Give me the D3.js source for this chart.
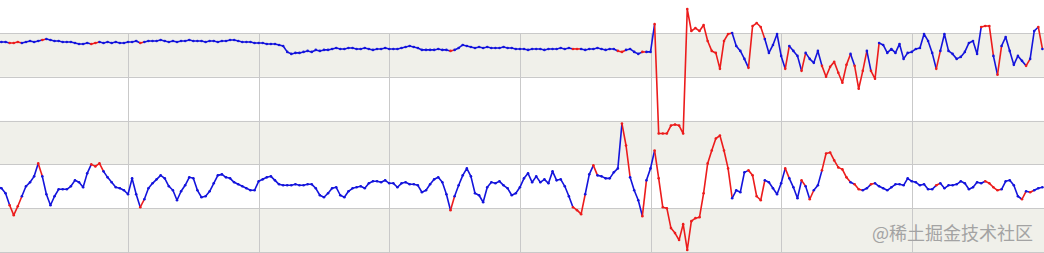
<!DOCTYPE html>
<html lang="zh">
<head>
<meta charset="UTF-8">
<title>signal</title>
<script src="https://cdn.jsdelivr.net/npm/d3@7"></script>
<style>
  body { margin: 0; background: #fff; }
</style>
</head>
<body>
<div id="chart"></div>
<script>
// readings, one sample every 1/32 of a grid cell
const upperSignal = [
  211,211,211,210,210,211,210,211,212,211, 212,213,214,213,212,212,211,211,211,210,
  209,209,210,209,210,211,210,211,210,211, 210,210,211,211,212,210,211,212,212,212,
  213,212,211,212,211,212,212,213,212,212, 212,211,212,212,211,212,212,213,213,212,
  211,211,211,210,210,210,209,209,209,208, 207,201,199,200,200,201,202,201,203,202,
  203,203,204,205,204,204,205,205,204,204, 205,204,203,204,204,205,204,204,204,205,
  206,207,206,205,203,203,203,203,204,203, 203,202,203,205,208,207,206,205,206,205,
  206,205,205,205,206,205,205,204,204,204, 203,204,204,204,203,204,204,204,205,204,
  205,204,204,204,203,204,204,205,204,203, 204,204,202,201,203,204,201,199,201,201,
  201,229,119,119,119,127,128,127,119,244, 222,225,222,228,212,202,200,184,212,219,
  220,207,202,194,185,227,230,226,214,200, 208,219,197,184,207,202,197,182,200,194,
  190,202,187,176,186,191,180,170,188,199, 187,164,182,202,182,174,210,208,200,204,
  200,209,194,200,201,204,205,219,212,200, 184,202,219,202,199,194,196,201,210,212,
  199,226,227,227,197,178,207,216,202,188, 197,192,187,194,222,226,204
];
const lowerSignal = [
  66,64,59,47,37,46,56,66,70,76, 89,76,58,47,56,63,63,63,66,72,
  70,65,79,88,86,89,81,75,70,65, 64,62,58,74,58,45,53,64,69,73,
  77,74,66,62,52,61,67,75,74,62, 55,56,61,69,77,78,75,74,70,68,
  66,64,62,62,71,73,75,76,72,68, 67,67,67,68,67,67,68,68,64,57,
  55,59,64,65,57,55,61,64,65,66, 64,69,71,71,70,72,69,69,65,69,
  70,68,68,67,60,62,68,73,75,70, 58,42,56,67,77,84,76,59,57,50,
  65,70,69,71,67,64,57,59,65,74, 79,70,76,70,73,69,81,72,73,66,
  56,45,42,38,58,78,87,77,76,74, 74,80,84,129,107,75,62,52,36,72,
  84,102,74,45,44,24,19,12,28,2, 31,34,35,59,89,102,114,117,102,84,
  54,62,60,80,82,77,56,52,72,70, 64,58,69,84,74,65,54,72,66,53,
  62,67,82,99,100,92,85,83,75,70, 68,63,62,64,68,69,66,64,62,65,
  68,68,67,74,71,70,67,68,63,63, 67,69,64,67,67,68,71,69,63,65,
  70,69,71,69,65,62,63,71,72,67, 56,53,61,60,62,64,65
];
// flagged stretches (sample index ranges, inclusive)
const upperFlagged = [[3,5],[11,11],[23,24],[35,35],[111,111],[141,142],[152,153],[158,158],
  [161,179],[184,187],[193,193],[197,197],[202,208],[210,212],[214,215],[230,230],
  [241,243],[245,245],[252,252],[255,255]];
const lowerFlagged = [[3,5],[10,10],[23,25],[35,35],[111,111],[141,143],[146,146],[153,154],
  [158,158],[161,179],[184,187],[193,193],[197,197],[199,199],[202,208],[210,211],
  [214,214],[230,230],[242,245],[251,251],[253,253]];
const xTicks = [32, 64, 96, 128, 160, 192, 224];
const yTicks = [0, 44, 88, 132, 176, 220];

const width = 1044, height = 253;
const blue = "#1414dc", red = "#ec1c1c";

const svg = d3.select("#chart").append("svg")
  .attr("width", width)
  .attr("height", height);

const x = d3.scaleLinear().domain([0, 256]).range([-2.6, 1042.4]);
const y = d3.scaleLinear().domain([0, 220]).range([252, 33]);

// alternating bands
const bands = d3.pairs(yTicks);
svg.append("g").selectAll("rect")
  .data(bands)
  .join("rect")
    .attr("x", 0)
    .attr("width", width)
    .attr("y", d => y(d[1]))
    .attr("height", d => y(d[0]) - y(d[1]))
    .attr("fill", (d, i) => i % 2 == 0 ? "#f0f0ea" : "#ffffff");

// grid
const grid = svg.append("g").attr("stroke", "#c9c9c9").attr("stroke-width", 1);
grid.selectAll(".h")
  .data(yTicks)
  .join("line")
    .attr("x1", 0).attr("x2", width)
    .attr("y1", d => Math.round(y(d)) + 0.5)
    .attr("y2", d => Math.round(y(d)) + 0.5);
grid.selectAll(".v")
  .data(xTicks)
  .join("line")
    .attr("x1", d => Math.round(x(d)) + 0.5)
    .attr("x2", d => Math.round(x(d)) + 0.5)
    .attr("y1", y(220)).attr("y2", y(0));

function isFlagged(ranges, i) {
  return ranges.some(r => i >= r[0] && i <= r[1]);
}

function drawSignal(values, ranges) {
  const pts = values.map((v, i) => ({i: i, v: v, bad: isFlagged(ranges, i)}));
  // split into runs of one colour, each run carries the next point to stay joined
  const runs = [];
  pts.forEach((p, i) => {
    if (i == 0 || p.bad != pts[i - 1].bad) runs.push({bad: p.bad, pts: []});
    runs[runs.length - 1].pts.push(p);
  });
  runs.forEach((r, k) => {
    if (k < runs.length - 1) r.pts.push(runs[k + 1].pts[0]);
  });

  const line = d3.line().x(d => x(d.i)).y(d => y(d.v));
  const g = svg.append("g");
  g.selectAll("path")
    .data(runs)
    .join("path")
      .attr("d", d => line(d.pts))
      .attr("fill", "none")
      .attr("stroke", d => d.bad ? red : blue)
      .attr("stroke-width", 1.6)
      .attr("stroke-linejoin", "round");
  g.selectAll("circle")
    .data(pts)
    .join("circle")
      .attr("cx", d => x(d.i))
      .attr("cy", d => y(d.v))
      .attr("r", 1.3)
      .attr("fill", d => d.bad ? red : blue);
}

drawSignal(lowerSignal, lowerFlagged);
drawSignal(upperSignal, upperFlagged);

svg.append("text")
  .attr("x", 872)
  .attr("y", 240)
  .style("font-family", "'Noto Sans CJK SC', sans-serif")
  .style("font-size", "18px")
  .attr("fill", "#a3a3a3")
  .text("@稀土掘金技术社区");
</script>
</body>
</html>
